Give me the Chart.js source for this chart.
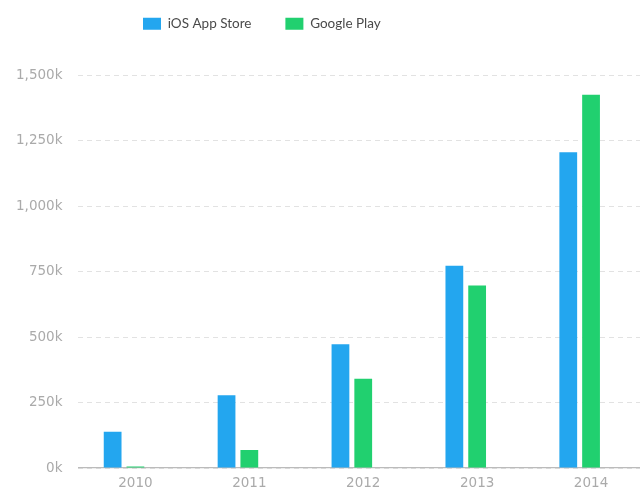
<!DOCTYPE html>
<html>
<head>
<meta charset="utf-8">
<script src="https://cdn.jsdelivr.net/npm/chart.js@4/dist/chart.umd.min.js"></script>
<style>
    html, body { margin: 0; padding: 0; background: #fff; overflow: hidden; }
    #wrap { position: relative; width: 650px; height: 488px; }
</style>
</head>
<body>
<div id="wrap"><canvas id="appsChart"></canvas></div>
<script>
// Apps available per store, in thousands
const years = ['2010', '2011', '2012', '2013', '2014'];
const iosApps = [139, 278, 473, 773, 1207];
const googleApps = [6, 69, 341, 697, 1426];
// third slot in each group is empty in the source chart
const emptySlot = [null, null, null, null, null];
const yTicks = [0, 250, 500, 750, 1000, 1250, 1500];

const LEGEND_FONT = 'Lato, "Open Sans", sans-serif';
const TICK_FONT = '"DejaVu Sans", sans-serif';

// move the legend to where the original has it
const legendShift = {
    id: 'legendShift',
    afterLayout(chart) {
        const lg = chart.legend;
        const w = lg.right - lg.left;
        const h = lg.bottom - lg.top;
        lg.left = 109;
        lg.right = lg.left + w;
        lg.top = -17;
        lg.bottom = lg.top + h;
    }
};

const ctx = document.getElementById('appsChart');
new Chart(ctx, {
    type: 'bar',
    data: {
        labels: years,
        datasets: [
            { label: 'iOS App Store', data: iosApps, backgroundColor: '#23a6ef' },
            { label: 'Google Play', data: googleApps, backgroundColor: '#21d06f' },
            { label: '', data: emptySlot, backgroundColor: 'rgba(0,0,0,0)' }
        ]
    },
    options: {
        responsive: true,
        maintainAspectRatio: false,
        animation: false,
        datasets: { bar: { categoryPercentage: 0.6, barPercentage: 0.78 } },
        layout: { padding: { left: 0, right: 2, top: 18, bottom: 0 } },
        plugins: {
            tooltip: { enabled: false },
            legend: {
                align: 'start',
                labels: {
                    filter: (item) => item.datasetIndex < 2,
                    boxWidth: 18,
                    boxHeight: 12,
                    padding: 34,
                    color: '#4a4a4a',
                    font: { family: LEGEND_FONT, size: 13.5 }
                }
            }
        },
        scales: {
            x: {
                afterFit: (scale) => { scale.height = 20; },
                grid: { display: false, drawTicks: false },
                border: { color: '#bbb', width: 1.2 },
                ticks: { color: '#aaa', padding: 7, font: { family: TICK_FONT, size: 13.5 } }
            },
            y: {
                min: 0,
                max: 1500,
                afterBuildTicks: (axis) => { axis.ticks = yTicks.map(v => ({ value: v })); },
                afterFit: (scale) => { scale.paddingBottom = 0; },
                grid: { color: '#e2e2e2', drawTicks: false, lineWidth: 1 },
                border: { display: false, dash: [5, 4] },
                ticks: {
                    color: '#aaa',
                    padding: 16,
                    font: { family: TICK_FONT, size: 13.5 },
                    callback: (v) => v.toLocaleString('en-US') + 'k'
                }
            }
        }
    },
    plugins: [legendShift]
});
</script>
</body>
</html>
